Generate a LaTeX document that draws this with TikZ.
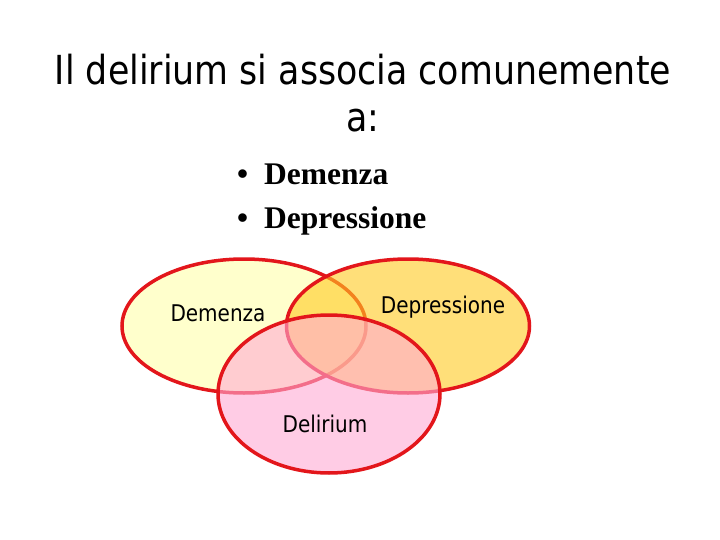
\documentclass[tikz,border=0pt]{standalone}
\usepackage{fontspec}
\setmainfont{Liberation Serif}
\setsansfont{DejaVu Sans}
\usepackage{tikz}
\usetikzlibrary{shapes.geometric}
\definecolor{vennRed}{HTML}{E3161B}
\definecolor{demFill}{HTML}{FFFFCC}
\definecolor{depFill}{HTML}{FFCB21}
\definecolor{delFill}{HTML}{FFAAD4}
\tikzset{
  venn/.style={ellipse,draw=vennRed,line width=3.5pt,inner sep=0pt},
  title/.style={font=\sffamily\fontsize{40}{48}\selectfont,anchor=base,xscale=0.87},
  bullet/.style={font=\rmfamily\bfseries\fontsize{31.5}{36}\selectfont,anchor=base west,inner sep=0pt},
  vlabel/.style={font=\sffamily\fontsize{23}{26}\selectfont,anchor=base,xscale=0.87},
}

\begin{document}
\begin{tikzpicture}[x=1pt,y=-1pt]
  \useasboundingbox (0,0) rectangle (720,540);
  \fill[white] (0,0) rectangle (720,540);

  \node[title] (line1) at (363,85) {Il delirium si associa comunemente};
  \node[title] (line2) at (363,132) {a:};

  \node[bullet] (b1) at (237,185) {\textbullet\hspace{16pt}Demenza};
  \node[bullet] (b2) at (237,229) {\textbullet\hspace{16pt}Depressione};

  \node[venn, fill=demFill, minimum width=244pt, minimum height=134pt] (dem) at (244,326) {};
  \node[venn, fill=depFill, fill opacity=0.6, minimum width=243pt, minimum height=134pt] (dep) at (408,326) {};
  \node[venn, fill=delFill, fill opacity=0.6, minimum width=222pt, minimum height=158pt] (del) at (329,394) {};

  \node[vlabel] (ldem) at (218,321) {Demenza};
  \node[vlabel] (ldep) at (443,313) {Depressione};
  \node[vlabel] (ldel) at (325,432) {Delirium};
\end{tikzpicture}
\end{document}
